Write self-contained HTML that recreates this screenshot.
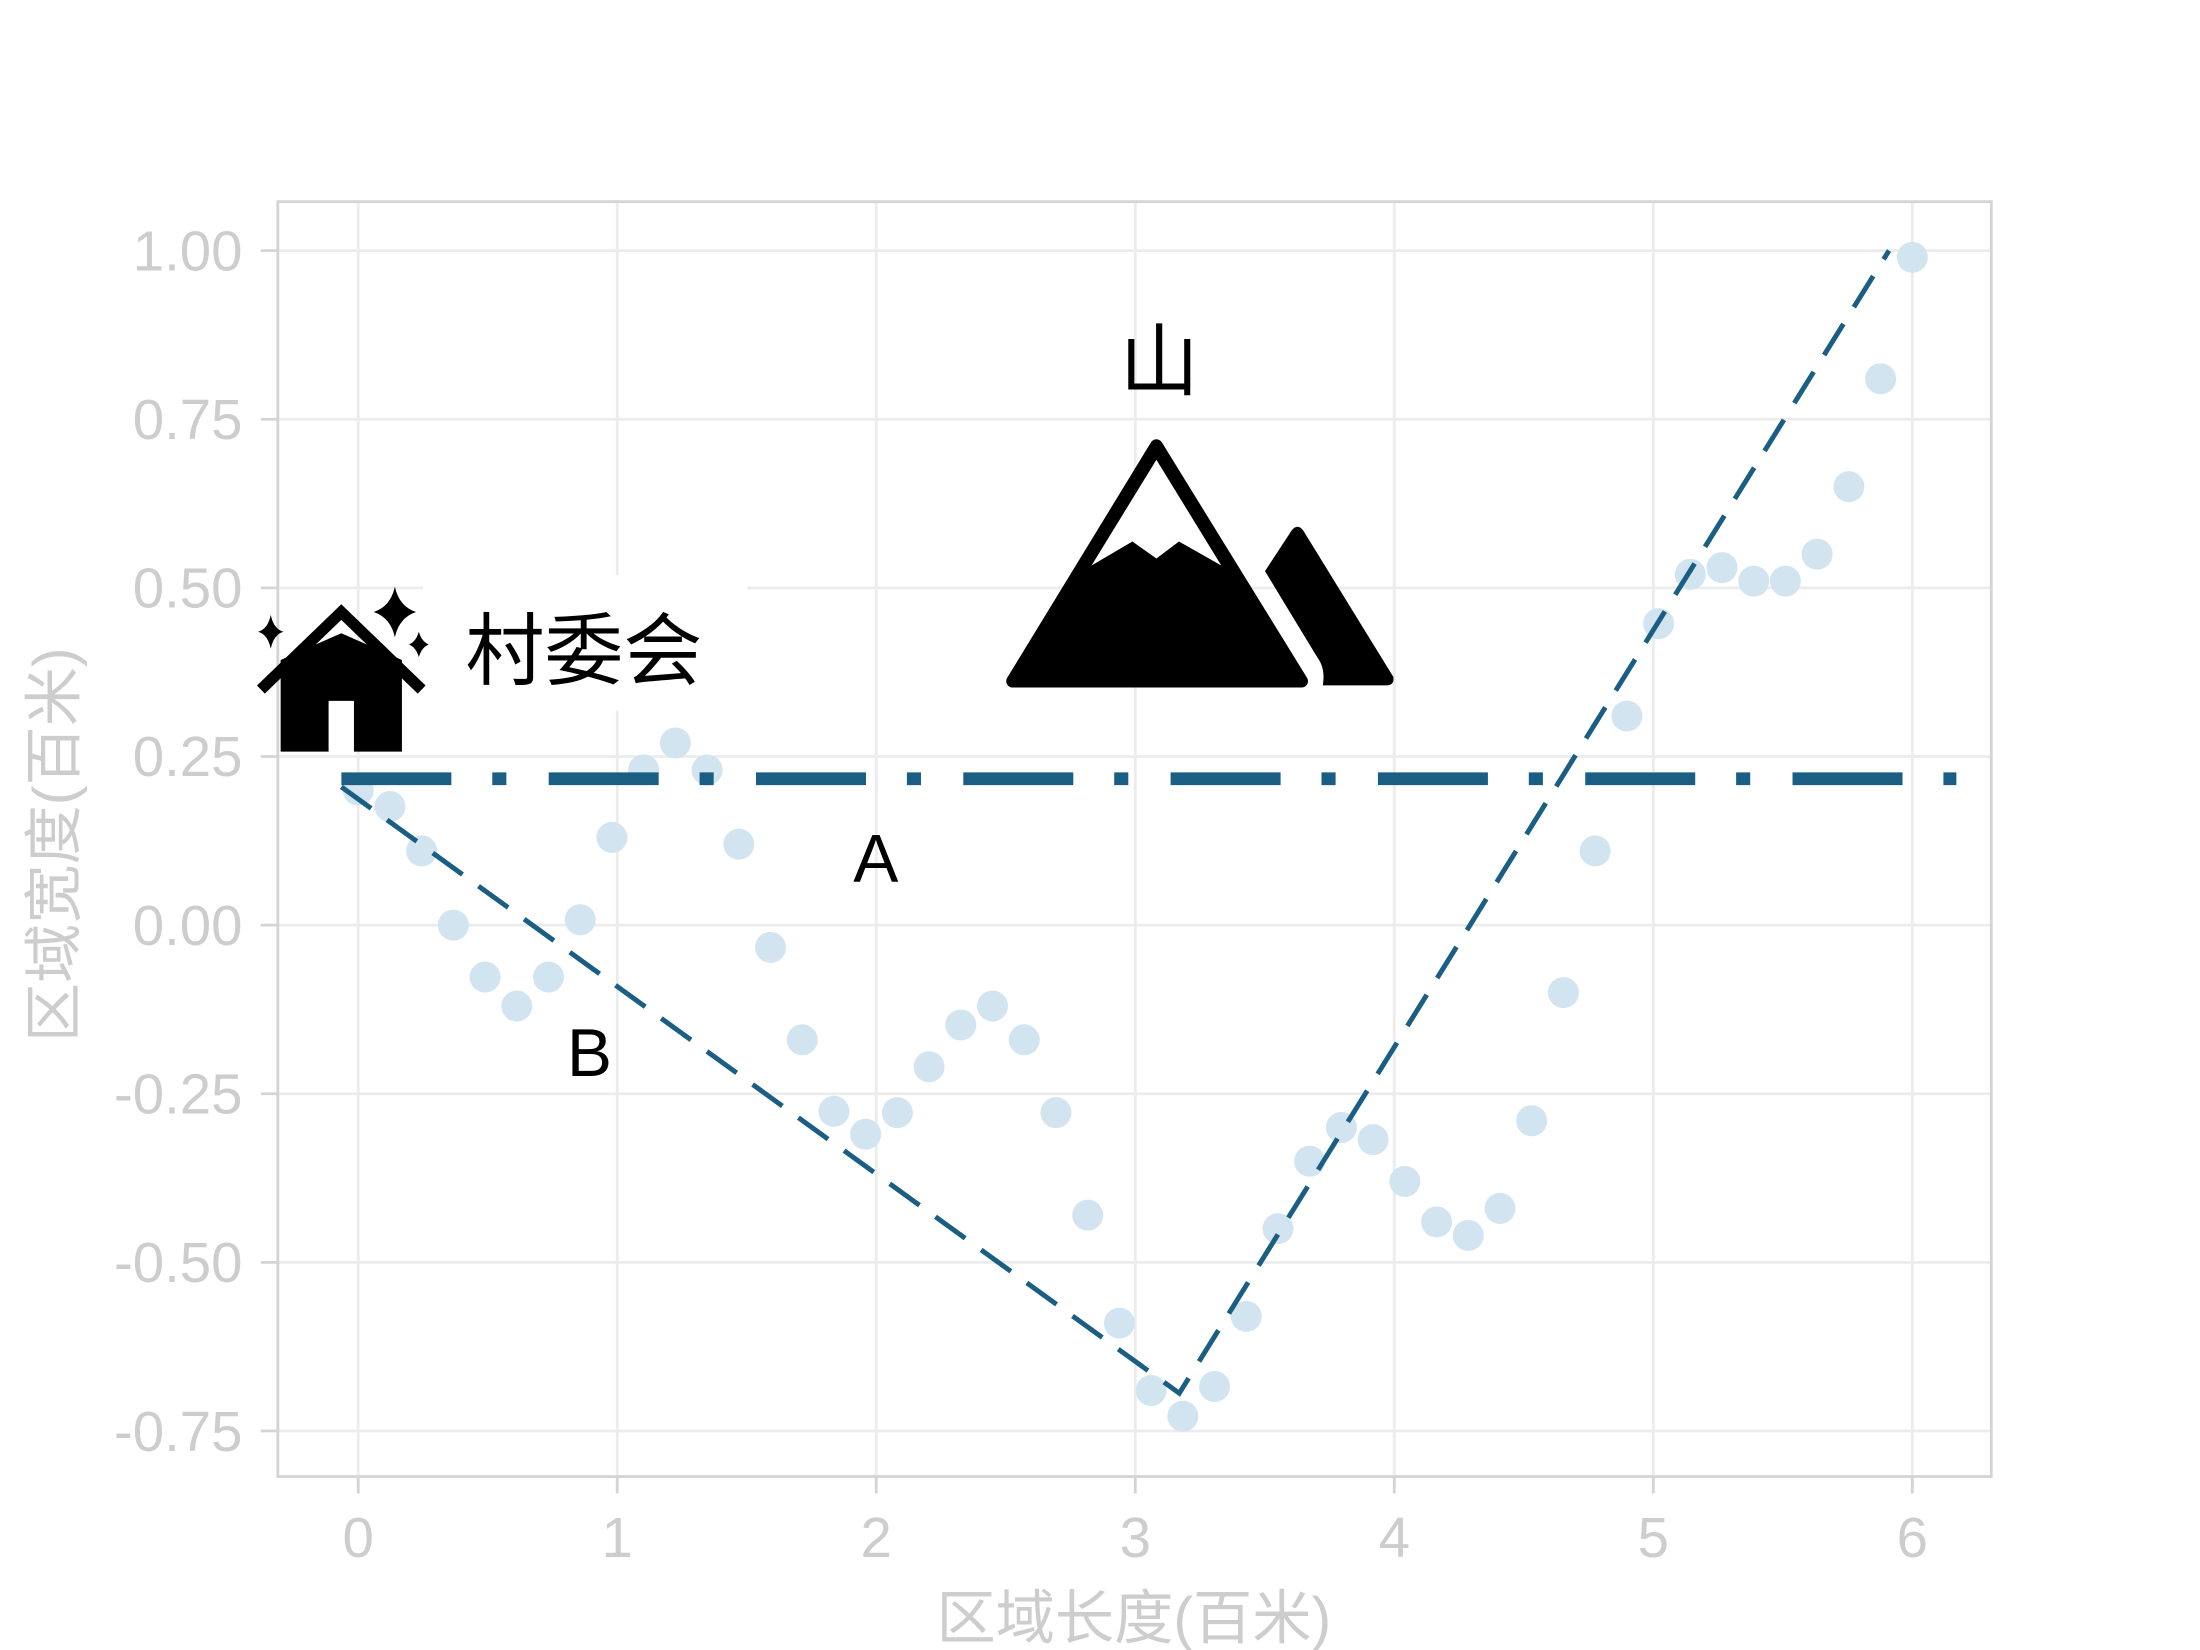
<!DOCTYPE html>
<html><head><meta charset="utf-8"><style>
html,body{margin:0;padding:0;background:#fff;}
svg{display:block;}
text{font-family:"Liberation Sans","Noto Sans CJK SC",sans-serif;}
</style></head><body>
<svg id="chart" width="2200" height="1650" viewBox="0 0 1560 1170" xmlns="http://www.w3.org/2000/svg">
<rect width="1560" height="1170" fill="#fff"/>
<g id="grid"></g>
<g id="points"></g>
<rect x="300" y="408" width="230" height="96" fill="#fff"/>
<g id="lines"></g>
<rect x="197" y="143" width="1215" height="904" fill="none" stroke="#d4d4d4" stroke-width="2"/>
<g id="axes"></g>
<g>
  <polyline points="185,489 242,434 299,489" fill="none" stroke="#000" stroke-width="8"/>
  <polygon points="199,533 199,468 242,449 285,468 285,533 251,533 251,497 233,497 233,533" fill="#000"/>
  <path d="M280,416 Q283,430 295,434 Q283,438 280,452 Q277,438 265,434 Q277,430 280,416Z" fill="#000"/>
  <path d="M192,436 Q194,446 201,448 Q194,450 192,460 Q190,450 183,448 Q190,446 192,436Z" fill="#000"/>
  <path d="M297,448 Q299,455 304,457 Q299,459 297,466 Q295,459 290,457 Q295,455 297,448Z" fill="#000"/>
</g>
<text x="330" y="481" font-size="56" fill="#000">村委会</text>
<g>
  <polygon points="820,316 718,483 923,483" fill="#000" stroke="#000" stroke-width="9" stroke-linejoin="round"/>
  <polygon points="820,326 866,401 836,384 820,396 803,384 774,401" fill="#fff"/>
  <path d="M897,405 L916,376 Q920,371 924,376 L988,480 Q989,486 983,486 L938,486 Q940,474 934,466 Z" fill="#000"/>
</g>
<text x="822" y="276" font-size="56" text-anchor="middle" fill="#000">山</text>
<text x="621" y="625" font-size="48" text-anchor="middle" fill="#000">A</text>
<text x="418" y="763" font-size="48" text-anchor="middle" fill="#000">B</text>
<text x="804" y="1162" font-size="42" text-anchor="middle" fill="#cdcdcd">区域长度(百米)</text>
<text x="0" y="0" font-size="42" text-anchor="middle" fill="#cdcdcd" transform="translate(53,599) rotate(-90)">区域宽度(百米)</text>
</svg>
<script>
const xTicks = [0, 1, 2, 3, 4, 5, 6];
const xTickLabels = ["0", "1", "2", "3", "4", "5", "6"];
const yTicks = [1.00, 0.75, 0.50, 0.25, 0.00, -0.25, -0.50, -0.75];
const yTickLabels = ["1.00", "0.75", "0.50", "0.25", "0.00", "-0.25", "-0.50", "-0.75"];
const pointY = [0.20, 0.176, 0.11, 0.0, -0.077, -0.12, -0.077, 0.008, 0.13, 0.23, 0.27, 0.23, 0.12, -0.033, -0.17, -0.276, -0.31, -0.278, -0.21, -0.148, -0.12, -0.17, -0.278, -0.43, -0.59, -0.69, -0.728, -0.684, -0.58, -0.45, -0.35, -0.30, -0.318, -0.38, -0.44, -0.46, -0.42, -0.29, -0.10, 0.11, 0.31, 0.447, 0.52, 0.53, 0.51, 0.51, 0.55, 0.65, 0.81, 0.99];
const xMax = 6;
const lineAX = [-0.065, 6.17];
const lineAY = [0.217, 0.217];
const lineBX = [-0.065, 3.17, 5.91];
const lineBY = [0.205, -0.694, 1.0];

const NS = "http://www.w3.org/2000/svg";
const sx = v => 254 + v * (1356 - 254) / 6;
const sy = v => 656 - v * 478.3;
function mk(tag, attrs, parent){const e=document.createElementNS(NS,tag);for(const k in attrs)e.setAttribute(k,attrs[k]);parent.appendChild(e);return e;}
const grid=document.getElementById('grid'), pts=document.getElementById('points'), lines=document.getElementById('lines'), axes=document.getElementById('axes');
xTicks.forEach((t,i)=>{
  const g=mk('line',{x1:sx(t),x2:sx(t),y1:143,y2:1047,stroke:'#ececec','stroke-width':2},grid);
  
  
  const tk=mk('line',{x1:sx(t),x2:sx(t),y1:1047,y2:1059,stroke:'#d4d4d4','stroke-width':2},axes);
  
  
  const tx=mk('text',{x:sx(t),y:1104,'font-size':40,'text-anchor':'middle',fill:'#cdcdcd'},axes);
  tx.textContent=xTickLabels[i];
  
  
});
yTicks.forEach((t,i)=>{
  const g=mk('line',{x1:197,x2:1412,y1:sy(t),y2:sy(t),stroke:'#ececec','stroke-width':2},grid);
  
  
  const tk=mk('line',{x1:185,x2:197,y1:sy(t),y2:sy(t),stroke:'#d4d4d4','stroke-width':2},axes);
  
  
  const tx=mk('text',{x:172,y:sy(t)+14,'font-size':40,'text-anchor':'end',fill:'#cdcdcd'},axes);
  tx.textContent=yTickLabels[i];
  
  
});
pointY.forEach((v,i)=>{
  const c=mk('circle',{cx:sx(i*xMax/(pointY.length-1)),cy:sy(v),r:11,fill:'#d3e4f1'},pts);
  
  
});
const la=mk('polyline',{points:lineAX.map((x,i)=>sx(x)+','+sy(lineAY[i])).join(' '),fill:'none',stroke:'#1b5e83','stroke-width':9,'stroke-dasharray':'78 29 10 30'},lines);


const lb=mk('polyline',{points:lineBX.map((x,i)=>sx(x)+','+sy(lineBY[i])).join(' '),fill:'none',stroke:'#1b5e83','stroke-width':3.5,'stroke-dasharray':'26 14'},lines);


</script>
</body></html>
